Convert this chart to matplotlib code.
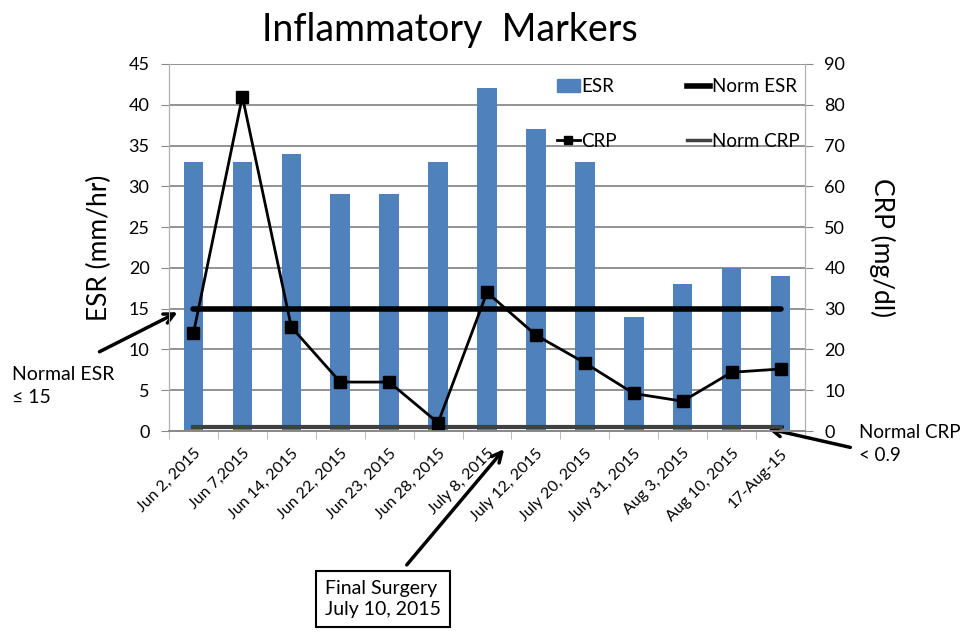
import matplotlib
matplotlib.use("Agg")
import matplotlib.pyplot as plt
import numpy as np
from matplotlib.lines import Line2D
from matplotlib.patches import Patch

plt.rcParams['font.family'] = ['Lato', 'DejaVu Sans']

dates = ["Jun 2, 2015", "Jun 7,2015", "Jun 14, 2015", "Jun 22, 2015", "Jun 23, 2015",
         "Jun 28, 2015", "July 8, 2015", "July 12, 2015", "July 20, 2015",
         "July 31, 2015", "Aug 3, 2015", "Aug 10, 2015", "17-Aug-15"]
esr = [33, 33, 34, 29, 29, 33, 42, 37, 33, 14, 18, 20, 19]
crp = [24, 82, 25.5, 12, 12, 2, 34, 23.5, 16.7, 9.2, 7.3, 14.4, 15.2]
norm_esr = 15
norm_crp = 0.9

W, H = 963, 632
fig = plt.figure(figsize=(W / 100, H / 100), dpi=100)
ax = fig.add_axes([169 / W, 1 - 431 / H, (805 - 169) / W, (431 - 64) / H])
ax2 = ax.twinx()

x = np.arange(len(dates))
blue = '#4F81BD'
ax.bar(x, esr, width=0.4, color=blue, zorder=2)
ax.set_xlim(-0.5, len(dates) - 0.5)
ax.set_ylim(0, 45)
ax.set_yticks(np.arange(0, 46, 5))
ax.yaxis.grid(True, color='#8a8a8a', lw=1.3, zorder=0)
ax.set_axisbelow(True)

ax.plot(x, [norm_esr] * len(x), color='black', lw=4, solid_capstyle='round', zorder=4)

ax2.set_ylim(0, 90)
ax2.set_yticks(np.arange(0, 91, 10))
ax2.plot(x, [norm_crp] * len(x), color='#404040', lw=3, zorder=3)
ax2.plot(x, crp, color='black', lw=2, marker='s', markersize=9, zorder=5)

# spines / ticks
for a in (ax, ax2):
    a.spines['top'].set_visible(False)
    a.spines['left'].set_color('#b0b0b0')
    a.spines['right'].set_color('#b0b0b0')
    a.spines['bottom'].set_color('#8a8a8a')
    a.spines['bottom'].set_linewidth(1.3)
ax.tick_params(axis='y', labelsize=13, length=6, color='#8a8a8a', pad=8)
ax2.tick_params(axis='y', labelsize=13, length=6, color='#8a8a8a', pad=8)
ax.set_xticks(x)
ax.set_xticklabels(dates, rotation=45, ha='right', rotation_mode='anchor', fontsize=11.5)
ax.set_xticks(np.arange(-0.5, len(dates), 1), minor=True)
ax.tick_params(axis='x', which='major', length=0, pad=11)
ax.tick_params(axis='x', which='minor', length=6, color='#b0b0b0')

ax.set_ylabel("ESR (mm/hr)", fontsize=19, labelpad=12)
ax2.set_ylabel("CRP (mg/dl)", fontsize=19, rotation=270, labelpad=36)

fig.text(450 / W, 1 - 30 / H, "Inflammatory  Markers", fontsize=27, ha='center', va='center')

# legend
handles = [Patch(color=blue),
           Line2D([], [], color='black', lw=2, marker='s', markersize=6),
           Line2D([], [], color='black', lw=4),
           Line2D([], [], color='#404040', lw=2.5)]
labels = ["ESR", "CRP", "Norm ESR", "Norm CRP"]
ax.legend(handles, labels, ncol=2, frameon=False, fontsize=13.5,
          loc='upper left', bbox_to_anchor=((543 - 169) / 636, 1.0),
          handlelength=1.2, handletextpad=0.1, columnspacing=3.75,
          labelspacing=2.0, borderaxespad=0.35)

# annotations
arrow = dict(arrowstyle='->', lw=2.5, color='black', mutation_scale=18)
ax.annotate('', xy=(180, H - 311), xycoords='figure pixels',
            xytext=(97, H - 353), textcoords='figure pixels', arrowprops=arrow, zorder=6)
fig.text(12 / W, 1 - 366 / H, "Normal ESR\n≤ 15", fontsize=14, va='top', ha='left',
         linespacing=1.4)

ax.annotate('', xy=(765, H - 428), xycoords='figure pixels',
            xytext=(853, H - 448), textcoords='figure pixels', arrowprops=arrow, zorder=6)
fig.text(859 / W, 1 - 424 / H, "Normal CRP\n< 0.9", fontsize=13.5, va='top', ha='left',
         linespacing=1.45)

ax.annotate('', xy=(506, H - 447), xycoords='figure pixels',
            xytext=(405, H - 567), textcoords='figure pixels', arrowprops=arrow, zorder=6)
fig.text(325 / W, 1 - 580 / H, "Final Surgery\nJuly 10, 2015", fontsize=14, va='top', ha='left',
         linespacing=1.3,
         bbox=dict(boxstyle='square,pad=0.45', fc='white', ec='black', lw=1.5))

fig.savefig("out.png", dpi=100)
